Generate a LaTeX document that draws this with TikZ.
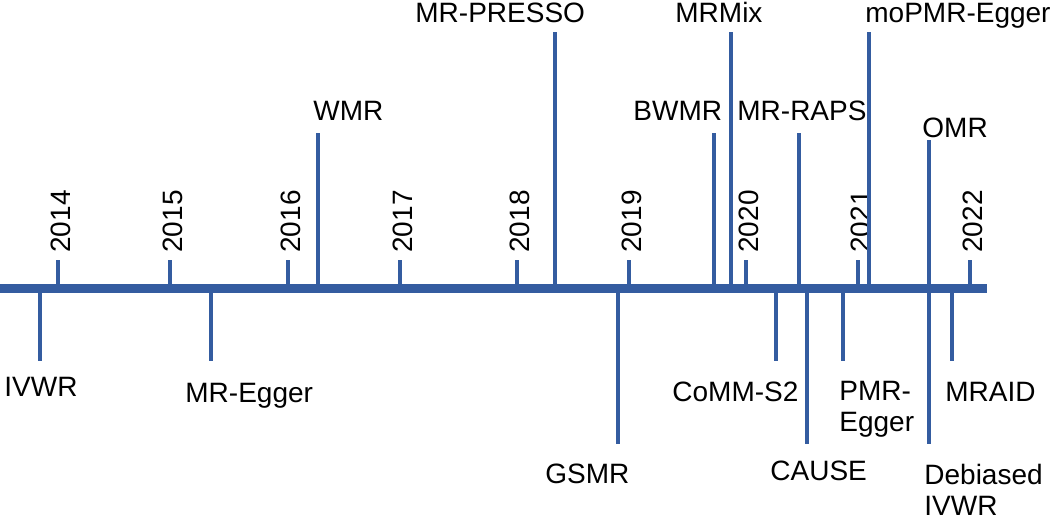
\documentclass[tikz,border=0pt]{standalone}
\usepackage{fontspec}
\setmainfont{Liberation Sans}
\usepackage{tikz}
\usetikzlibrary{calc}
\definecolor{timelineBlue}{RGB}{52,92,160}
\newcommand{\lineColor}{timelineBlue}
\newcommand{\textSize}{\fontsize{14pt}{15.5pt}\selectfont}
\tikzset{axisLine/.style = {\lineColor, line width=4.5pt}}
\tikzset{yearTick/.style = {\lineColor, line width=2.2pt}}
\tikzset{eventLine/.style = {\lineColor, line width=2.2pt}}
\tikzset{eventLabel/.style = {anchor=base west, inner sep=0pt, align=left, font=\textSize}}
\tikzset{yearLabel/.style = {eventLabel, rotate=90}}

\begin{document}
\begin{tikzpicture}[x=0.5pt, y=-0.5pt]
    \useasboundingbox (0,0) rectangle (1053,515);
    \def\ax{288}

    \coordinate (start) at (0,\ax);
    \coordinate (end) at (987,\ax);

    % years
    \foreach \yr/\x in {2014/58, 2015/170, 2016/288, 2017/400, 2018/517,
            2019/629, 2020/746, 2021/858, 2022/970}
    {
        \coordinate (t\yr) at (\x,\ax);
        \coordinate (h\yr) at (\x,260);
        \draw[yearTick] (t\yr) -- (h\yr);
        \node[yearLabel] (l\yr) at (\x+12.5,253) {\yr};
    }

    % methods above the axis
    \foreach \n/\x/\top/\lx/\ly/\T in {wmr/318/133/313/120/WMR,
            presso/555/32/415/22/MR-PRESSO, bwmr/714/133/633/120/BWMR,
            mrmix/731/32/675/22/MRMix, raps/799/133/737/120/MR-RAPS,
            mopmr/869/32/865/22/moPMR-Egger, omr/929/140/922/137/OMR}
    {
        \coordinate (a\n) at (\x,\ax);
        \coordinate (e\n) at (\x,\top);
        \draw[eventLine] (a\n) -- (e\n);
        \node[eventLabel] (\n) at (\lx,\ly) {\T};
    }

    % methods below the axis (two-line labels sit on their last line)
    \foreach \n/\x/\bot/\lx/\ly/\T in {ivwr/40/361/4/396/IVWR,
            egger/211/361/185/402/MR-Egger, gsmr/618/444/545/483/GSMR,
            comm/776/361/672/401/CoMM-S2, cause/807/444/770/480/CAUSE,
            pmr/843/361/839/431/{PMR-\\Egger},
            divwr/929/444/924/515/{Debiased\\IVWR},
            mraid/952/361/945/401/MRAID}
    {
        \coordinate (a\n) at (\x,\ax);
        \coordinate (e\n) at (\x,\bot);
        \draw[eventLine] (a\n) -- (e\n);
        \node[eventLabel] (\n) at (\lx,\ly) {\T};
    }

    \draw[axisLine] (start) -- (end);
\end{tikzpicture}
\end{document}
